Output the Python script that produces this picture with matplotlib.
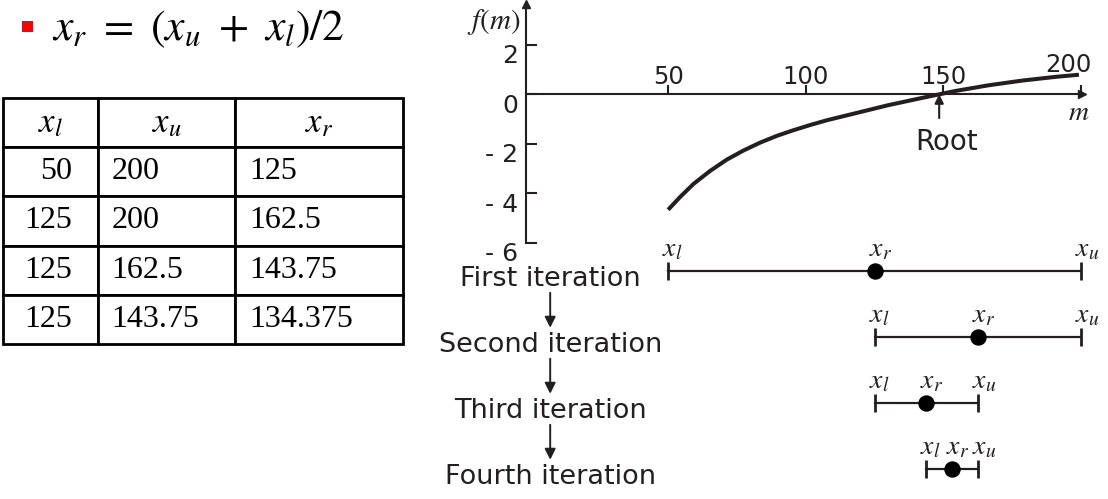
import matplotlib.pyplot as plt
from matplotlib.patches import Rectangle
from matplotlib.transforms import ScaledTranslation

plt.rcParams['mathtext.fontset'] = 'stix'
plt.rcParams['font.family'] = ['DejaVu Sans']

# f(m) curve
m_curve = [50.4, 54.3, 59.1, 65.2, 71.2, 77.3, 83.4, 89.4, 95.5, 101.6, 107.6,
           117.9, 130.0, 142.2, 148.2, 154.3, 166.4, 178.6, 190.7, 198.6]
f_curve = [-4.60, -4.14, -3.62, -3.09, -2.64, -2.27, -1.95, -1.68, -1.45, -1.24, -1.05,
           -0.77, -0.44, -0.15, -0.01, 0.13, 0.36, 0.55, 0.70, 0.78]
root_m = 148.5

x_ticks = [50, 100, 150, 200]
y_ticks = [2, 0, -2, -4, -6]
y_tick_labels = ['2', '0', '- 2', '- 4', '- 6']

# bisection intervals as drawn
iter_names = ['First iteration', 'Second iteration', 'Third iteration', 'Fourth iteration']
iter_xl = [50, 125, 125, 143.75]
iter_xu = [200, 200, 162.5, 162.5]
iter_xr = [125, 162.5, 143.75, 153.125]

# table on the left
tbl_headers = ['$x_l$', '$x_u$', '$x_r$']
tbl_xl = ['50', '125', '125', '125']
tbl_xu = ['200', '200', '162.5', '143.75']
tbl_xr = ['125', '162.5', '143.75', '134.375']

W, H = 1108, 499
ink = '#231f20'
fig = plt.figure(figsize=(W / 100, H / 100), dpi=100)


def box(x0, y0, x1, y1):
    return [x0 / W, 1 - y1 / H, (x1 - x0) / W, (y1 - y0) / H]


def shift(dx, dy):
    return ScaledTranslation(dx / 100, dy / 100, fig.dpi_scale_trans)


# bullet + formula
fig.add_artist(Rectangle((22 / W, 1 - 32 / H), 11 / W, 11 / H,
                         transform=fig.transFigure, color='#ff0000', lw=0))
fig.text(52 / W, 1 - 40 / H, r'$x_r\ =\ (x_u\ +\ x_l)/2$', fontsize=31.5,
         ha='left', va='baseline', color='black')

# table
axt = fig.add_axes(box(3, 98, 403, 344))
axt.axis('off')
rows = [list(r) for r in zip(tbl_xl, tbl_xu, tbl_xr)]
tbl = axt.table(cellText=rows, colLabels=tbl_headers, bbox=[0, 0, 1, 1],
                colWidths=[0.2375, 0.3425, 0.42])
tbl.auto_set_font_size(False)
for (r, c), cell in tbl.get_celld().items():
    cell.set_linewidth(2.0)
    cell.set_edgecolor('black')
    txt = cell.get_text()
    if r == 0:
        txt.set_fontsize(25)
        txt.set_ha('center')
    else:
        txt.set_fontsize(23)
        txt.set_fontfamily('Liberation Serif')
        if c == 0:
            txt.set_ha('right')
            cell.PAD = 0.27
        else:
            txt.set_ha('left')
            cell.PAD = 0.1 if c == 1 else 0.083

# f(m) plot
ax = fig.add_axes(box(526, 4, 1082, 243))
ax.set_xlim(-1.8, 200.45)
ax.set_ylim(-6, 3.64)
ax.plot(m_curve, f_curve, color=ink, lw=2.9, solid_joinstyle='round')
ax.spines['right'].set_visible(False)
ax.spines['bottom'].set_visible(False)
ax.spines['top'].set_position(('data', 0))
ax.spines['top'].set_linewidth(1.5)
ax.spines['left'].set_linewidth(1.5)
ax.spines['top'].set_color(ink)
ax.spines['left'].set_color(ink)
ax.patch.set_visible(False)
ax.xaxis.tick_top()
ax.set_xticks(x_ticks)
ax.set_xticklabels([str(t) for t in x_ticks])
ax.tick_params(axis='x', direction='out', length=6.5, width=1.5, pad=-2.5,
               labelsize=17.5, colors=ink)
ax.set_yticks(y_ticks)
ax.set_yticklabels(y_tick_labels)
ax.tick_params(axis='y', direction='in', length=7.7, width=1.5, pad=5.8,
               labelsize=18, colors=ink)
for lab in ax.get_yticklabels():
    lab.set_transform(lab.get_transform() + shift(0, -9))
last = ax.get_xticklabels()[-1]
last.set_transform(last.get_transform() + shift(-12, 12))

ax.plot(1, 0, marker='>', ms=6, color=ink, transform=ax.get_yaxis_transform(),
        clip_on=False)
ax.plot(0, 1, marker='^', ms=6, color=ink, transform=ax.transAxes, clip_on=False)
fig.text(520 / W, 1 - 7 / H, '$f(m)$', fontsize=21, ha='right', va='top', color=ink)
fig.text(1079 / W, 1 - 120 / H, '$m$', fontsize=20, ha='center', va='baseline', color=ink)

ax.annotate('', xy=(root_m, 0), xytext=(root_m, -0.96),
            arrowprops=dict(arrowstyle='-|>', color=ink, lw=1.5,
                            mutation_scale=13, shrinkA=0, shrinkB=0))
ax.annotate('Root', xy=(root_m, -2.25), xytext=(7, 0), textcoords='offset pixels',
            ha='center', va='baseline', fontsize=20, color=ink)

# iteration intervals
ax2 = fig.add_axes(box(526, 250, 1082, 499), sharex=ax)
ax2.axis('off')
ax2.set_ylim(3.4545, -0.318)
name_x = 7.0
for i, (name, xl, xu, xr) in enumerate(zip(iter_names, iter_xl, iter_xu, iter_xr)):
    ax2.plot([xl, xu], [i, i], color=ink, lw=1.6, marker='|', ms=13, mew=2)
    ax2.plot(xr, i, 'o', color='black', ms=10.8)
    for x, lab in zip([xl, xr, xu], ['$x_l$', '$x_r$', '$x_u$']):
        ax2.annotate(lab, xy=(x, i), xytext=(-6, 15), textcoords='offset pixels',
                     ha='left', va='baseline', fontsize=20, color=ink)
    ax2.annotate(name, xy=(name_x, i), xytext=(0, -15), textcoords='offset pixels',
                 ha='center', va='baseline', fontsize=19.5, color=ink)
    if i < len(iter_names) - 1:
        ax2.annotate('', xy=(name_x, i + 1 - 0.14), xytext=(name_x, i + 0.33),
                     arrowprops=dict(arrowstyle='-|>', color=ink, lw=1.4,
                                     mutation_scale=16, shrinkA=0, shrinkB=0))

fig.savefig('out.png', dpi=100)
